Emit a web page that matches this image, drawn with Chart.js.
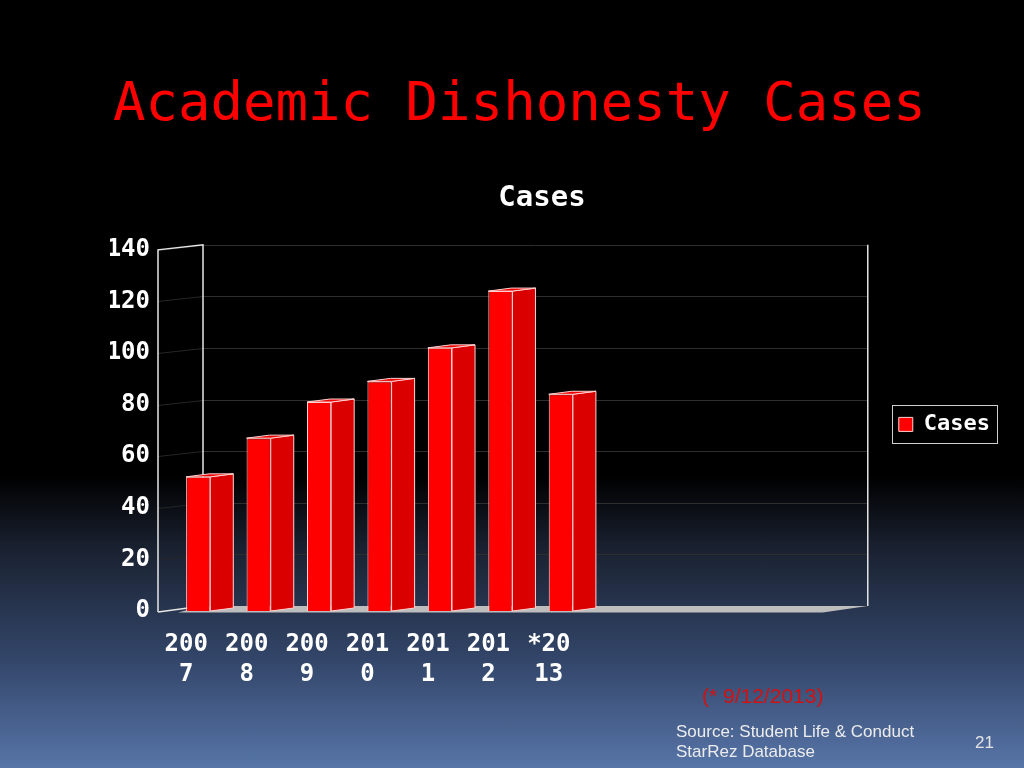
<!DOCTYPE html>
<html>
<head>
<meta charset="utf-8">
<title>Academic Dishonesty Cases</title>
<script src="https://cdn.jsdelivr.net/npm/chart.js@4.4.0/dist/chart.umd.min.js"></script>
<style>
  html, body { margin: 0; padding: 0; }
  body {
    width: 1024px; height: 768px; overflow: hidden; position: relative;
    background: linear-gradient(to bottom, #000 0%, #000 62%, #1b2333 72%, #33466a 86%, #5775a8 100%);
  }
  #slideTitle {
    position: absolute; left: 113px; top: 75px;
    font-family: 'DejaVu Sans Mono', monospace; font-size: 54px; line-height: 54px;
    color: #ff0000; white-space: nowrap;
  }
  #chartBox { position: absolute; left: 0; top: 0; width: 1024px; height: 768px; }
  .note { position: absolute; font-family: 'Liberation Sans', Arial, sans-serif; white-space: nowrap; line-height: 1; }
</style>
</head>
<body>
<div id="slideTitle">Academic Dishonesty Cases</div>
<div id="chartBox"><canvas id="casesChart" width="1024" height="768"></canvas></div>
<div class="note" style="left:702px; top:685px; font-size:21px; color:#d01212;">(* 9/12/2013)</div>
<div class="note" style="left:676px; top:723px; font-size:17px; color:#ececec;">Source: Student Life &amp; Conduct</div>
<div class="note" style="left:676px; top:743px; font-size:17px; color:#ececec;">StarRez Database</div>
<div class="note" style="left:975px; top:734px; font-size:17px; color:#e4e4e4;">21</div>

<script>
// chart data (the old chart had 11 category slots, only 7 are filled)
const years = ['2007', '2008', '2009', '2010', '2011', '2012', '*2013', '', '', '', ''];
const cases = [52, 67, 81, 89, 102, 124, 84, null, null, null, null];
const yMin = 0;
const yMax = 140;
const yStep = 20;

// fake 3d look
const WALL_DX = 45, WALL_DY = -5;   // depth of the walls
const BAR_DX = 23, BAR_DY = -3;     // depth of a bar
const FRONT_SHIFT = 10;             // front edge of the box sits left of the chart area

const box3d = {
    id: 'box3d',
    afterLayout(chart) {
        // move legend to the right like the slide
        const lg = chart.legend;
        lg.left += 26; lg.right += 26;
        lg.top -= 6; lg.bottom -= 6;
    },
    beforeDatasetsDraw(chart) {
        const ctx = chart.ctx;
        const a = chart.chartArea;
        const yScale = chart.scales.y;
        const x0 = a.left - FRONT_SHIFT;
        const x1 = a.right - FRONT_SHIFT;
        const top = yScale.getPixelForValue(yMax);
        const bottom = yScale.getPixelForValue(yMin);
        ctx.save();
        // grid lines on back wall and left wall
        ctx.lineWidth = 1;
        yScale.ticks.forEach(t => {
            const yy = Math.round(yScale.getPixelForValue(t.value)) + 0.5;
            ctx.strokeStyle = '#2e2e2e';
            ctx.beginPath();
            ctx.moveTo(x0 + WALL_DX, yy + WALL_DY);
            ctx.lineTo(x1 + WALL_DX, yy + WALL_DY);
            ctx.stroke();
            ctx.strokeStyle = '#262626';
            ctx.beginPath();
            ctx.moveTo(x0, yy);
            ctx.lineTo(x0 + WALL_DX, yy + WALL_DY);
            ctx.stroke();
        });
        // wall outlines
        ctx.strokeStyle = '#e6e6e6';
        ctx.lineWidth = 1.5;
        ctx.beginPath();
        ctx.moveTo(x0, bottom + 1);
        ctx.lineTo(x0, top);
        ctx.lineTo(x0 + WALL_DX, top + WALL_DY);
        ctx.lineTo(x0 + WALL_DX, bottom + WALL_DY);
        ctx.stroke();
        ctx.beginPath();
        ctx.moveTo(x1 + WALL_DX, top + WALL_DY);
        ctx.lineTo(x1 + WALL_DX, bottom + WALL_DY);
        ctx.stroke();
        ctx.beginPath();
        ctx.moveTo(x0, bottom + 1);
        ctx.lineTo(x0 + WALL_DX, bottom + WALL_DY);
        ctx.stroke();
        // floor
        ctx.fillStyle = '#bdbdbd';
        ctx.beginPath();
        ctx.moveTo(x0 + 20, bottom + 1.5);
        ctx.lineTo(x1, bottom + 1.5);
        ctx.lineTo(x1 + WALL_DX, bottom + WALL_DY);
        ctx.lineTo(x0 + WALL_DX, bottom + WALL_DY);
        ctx.closePath();
        ctx.fill();
        ctx.restore();
    },
    afterDatasetsDraw(chart) {
        const ctx = chart.ctx;
        ctx.save();
        ctx.lineWidth = 1;
        ctx.strokeStyle = '#ffd2d2';
        chart.getDatasetMeta(0).data.forEach((bar, i) => {
            if (cases[i] == null) return;
            const p = bar.getProps(['x', 'y', 'base', 'width'], true);
            const l = p.x - p.width / 2, r = p.x + p.width / 2;
            // side face
            ctx.fillStyle = '#da0000';
            ctx.beginPath();
            ctx.moveTo(r, p.y);
            ctx.lineTo(r + BAR_DX, p.y + BAR_DY);
            ctx.lineTo(r + BAR_DX, p.base + BAR_DY);
            ctx.lineTo(r, p.base);
            ctx.closePath();
            ctx.fill();
            ctx.stroke();
            // top face
            ctx.fillStyle = '#f00000';
            ctx.beginPath();
            ctx.moveTo(l, p.y);
            ctx.lineTo(l + BAR_DX, p.y + BAR_DY);
            ctx.lineTo(r + BAR_DX, p.y + BAR_DY);
            ctx.lineTo(r, p.y);
            ctx.closePath();
            ctx.fill();
            ctx.stroke();
        });
        ctx.restore();
    },
    afterDraw(chart) {
        // thin frame round the legend
        const hb = chart.legend.legendHitBoxes[0];
        if (!hb) return;
        const ctx = chart.ctx;
        ctx.save();
        ctx.strokeStyle = '#cfcfcf';
        ctx.lineWidth = 1;
        ctx.strokeRect(Math.round(hb.left - 7) + 0.5, Math.round(hb.top - 8) + 0.5, Math.round(hb.width + 14), Math.round(hb.height + 16));
        ctx.restore();
    }
};

const monoBold = size => ({ family: "'DejaVu Sans Mono', monospace", size: size, weight: 'bold' });

document.addEventListener('DOMContentLoaded', function () {
    const ctx = document.getElementById('casesChart').getContext('2d');
    new Chart(ctx, {
        type: 'bar',
        data: {
            labels: years,
            datasets: [{
                label: 'Cases',
                data: cases,
                backgroundColor: '#ff0000',
                borderColor: '#ffd2d2',
                borderWidth: 1,
                categoryPercentage: 1,
                barPercentage: 0.4
            }]
        },
        options: {
            responsive: false,
            animation: false,
            layout: { padding: { left: 110, right: 50, top: 181, bottom: 77 } },
            plugins: {
                title: {
                    display: true,
                    text: 'Cases',
                    color: '#ffffff',
                    font: monoBold(29),
                    padding: { top: 0, bottom: 34 }
                },
                legend: {
                    position: 'right',
                    fullSize: false,
                    labels: {
                        color: '#ffffff',
                        font: monoBold(22),
                        boxWidth: 14,
                        boxHeight: 14,
                        padding: 40
                    }
                },
                tooltip: { enabled: false }
            },
            scales: {
                x: {
                    grid: { display: false },
                    border: { display: false },
                    ticks: {
                        color: '#ffffff',
                        font: { family: "'DejaVu Sans Mono', monospace", size: 24, weight: 'bold', lineHeight: 1.25 },
                        padding: 11,
                        labelOffset: -12,
                        maxRotation: 0,
                        autoSkip: false,
                        // the slide wraps the year after 3 characters
                        callback: function (value) {
                            const s = this.getLabelForValue(value);
                            return s ? [s.slice(0, 3), s.slice(3)] : '';
                        }
                    },
                    afterFit: scale => { scale.height = 80; }
                },
                y: {
                    min: yMin,
                    max: yMax,
                    grid: { display: false, drawTicks: false },
                    border: { display: false },
                    ticks: {
                        stepSize: yStep,
                        color: '#ffffff',
                        font: monoBold(24),
                        padding: 18
                    },
                    afterFit: scale => { scale.width = 58; }
                }
            }
        },
        plugins: [box3d]
    });
});
</script>
</body>
</html>
